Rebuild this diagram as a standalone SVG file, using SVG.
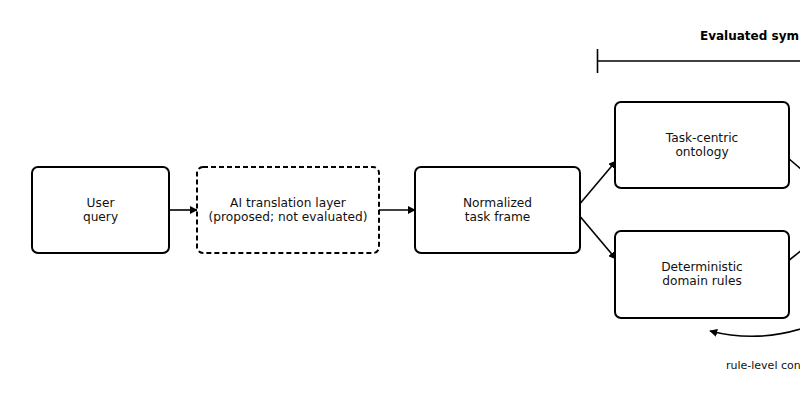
<svg xmlns="http://www.w3.org/2000/svg" width="800" height="420" viewBox="0 0 800 420">
<defs>
<marker id="ah" viewBox="0 0 10 10" refX="9" refY="5" markerWidth="8" markerHeight="8" markerUnits="userSpaceOnUse" orient="auto">
<path d="M0,0 L10,5 L0,10 z" fill="#000"/>
</marker>
</defs>
<style>
.box{fill:#fff;stroke:#000;stroke-width:2}
.dash{stroke-dasharray:5 3}
.lbl{font-family:"DejaVu Sans",sans-serif;font-size:12.2px;fill:#111;text-anchor:middle}
.conn{fill:none;stroke:#000;stroke-width:1.6}
.note{font-family:"DejaVu Sans",sans-serif;font-size:11px;fill:#111}
.title{font-family:"DejaVu Sans",sans-serif;font-size:12px;font-weight:bold;fill:#000}
</style>
<rect width="800" height="420" fill="#fff"/>
<g id="bracket">
<line x1="597.5" y1="49" x2="597.5" y2="73" stroke="#000" stroke-width="1.6"/>
<line x1="597.5" y1="61" x2="800" y2="61" stroke="#000" stroke-width="1.6"/>
<text class="title" x="700" y="40">Evaluated sym</text>
</g>
<g id="connectors">
<line class="conn" x1="169" y1="210" x2="197" y2="210" marker-end="url(#ah)"/>
<line class="conn" x1="379" y1="210" x2="415" y2="210" marker-end="url(#ah)"/>
<line class="conn" x1="578" y1="206" x2="616" y2="161" marker-end="url(#ah)"/>
<line class="conn" x1="578" y1="214" x2="616" y2="259" marker-end="url(#ah)"/>
<line class="conn" x1="788" y1="158" x2="830" y2="194"/>
<line class="conn" x1="788" y1="261" x2="830" y2="228"/>
<path class="conn" d="M820,322 Q765,345 710,331" marker-end="url(#ah)"/>
</g>
<g id="user-query">
<rect class="box" x="32" y="167" width="137" height="86" rx="6"/>
<text class="lbl" x="100.5" y="206.5">User</text>
<text class="lbl" x="100.5" y="220.5">query</text>
</g>
<g id="ai-translation">
<rect class="box dash" x="197" y="167" width="182" height="86" rx="6"/>
<text class="lbl" x="288" y="206.5">AI translation layer</text>
<text class="lbl" x="288" y="220.5">(proposed; not evaluated)</text>
</g>
<g id="normalized">
<rect class="box" x="415" y="167" width="165" height="86" rx="6"/>
<text class="lbl" x="497.5" y="206.5">Normalized</text>
<text class="lbl" x="497.5" y="220.5">task frame</text>
</g>
<g id="ontology">
<rect class="box" x="615" y="102" width="174" height="86" rx="6"/>
<text class="lbl" x="702" y="141.5">Task-centric</text>
<text class="lbl" x="702" y="155.5">ontology</text>
</g>
<g id="rules">
<rect class="box" x="615" y="231" width="174" height="87" rx="6"/>
<text class="lbl" x="702" y="270.5">Deterministic</text>
<text class="lbl" x="702" y="284.5">domain rules</text>
</g>
<text class="note" x="726" y="369">rule-level con</text>
</svg>
